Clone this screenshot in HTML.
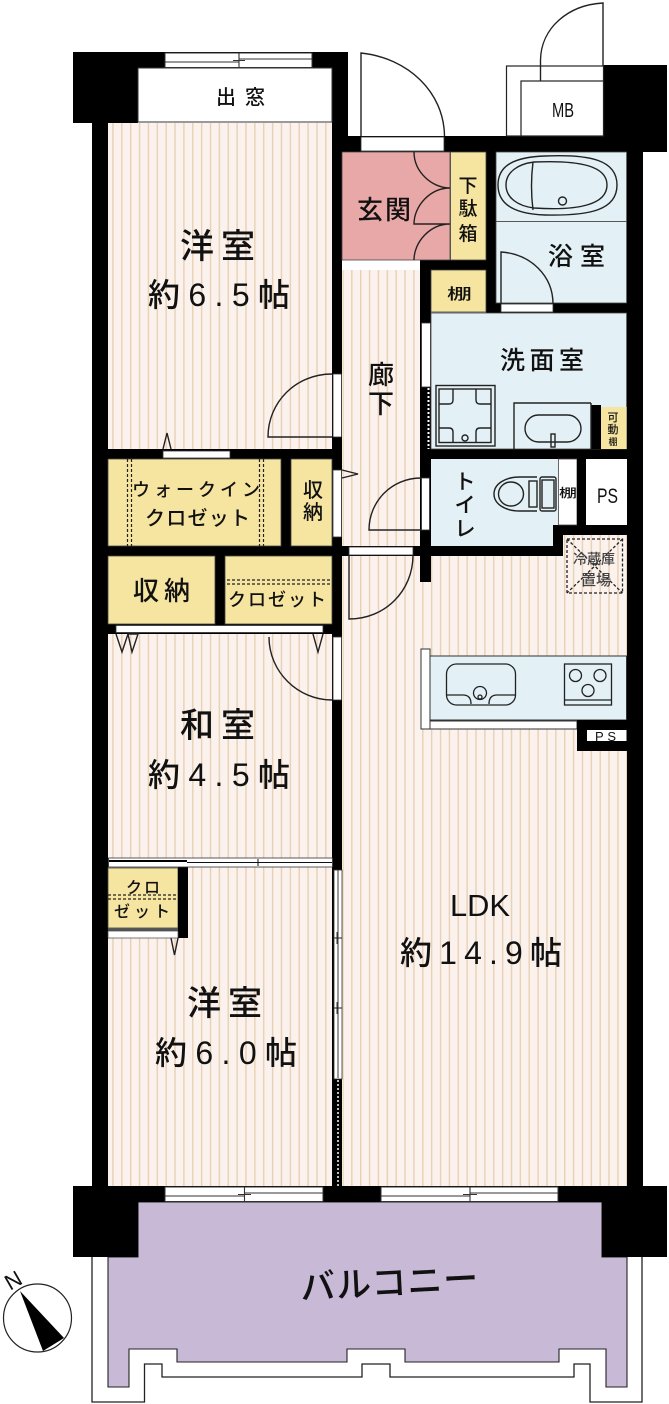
<!DOCTYPE html>
<html lang="ja"><head><meta charset="utf-8"><title>間取り図</title>
<style>html,body{margin:0;padding:0;background:#fff}svg{display:block}
text{font-family:"Liberation Sans","Noto Sans CJK JP",sans-serif;fill:#111;font-weight:500}</style></head><body>
<svg xmlns="http://www.w3.org/2000/svg" width="669" height="1404" viewBox="0 0 669 1404">
<defs>
<pattern id="p1" patternUnits="userSpaceOnUse" width="8.87" height="20" x="5.8"><rect width="8.87" height="20" fill="#fbf1ed"/><rect x="0" width="1.4" height="20" fill="#e8d1b3"/></pattern>
<pattern id="p2" patternUnits="userSpaceOnUse" width="8.87" height="20" x="5.2"><rect width="8.87" height="20" fill="#fbf1ed"/><rect x="0" width="1.4" height="20" fill="#e8d1b3"/></pattern>
</defs>

<!-- balcony -->
<path d="M92 1250V1402H144.5V1364H162V1377H362V1364H390V1377H574V1364H590V1402H642V1250Z" fill="#fff" stroke="#222" stroke-width="1.3"/>
<path d="M138 1202H602V1257H627V1387H606V1349H559V1362H405V1349H347V1362H177V1349H129V1387H108V1257H138Z" fill="#c8bad7" stroke="#222" stroke-width="1.1"/>

<!-- walls -->
<g fill="#000">
<rect x="73" y="52" width="65" height="71"/><rect x="138" y="52" width="210" height="16"/>
<rect x="332" y="52" width="16" height="100"/>
<rect x="92" y="120" width="16" height="1070"/><rect x="332" y="120" width="10" height="1070"/>
<rect x="332" y="136" width="311" height="16"/>
<rect x="603" y="65" width="64" height="87"/>
<rect x="627" y="140" width="16" height="1060"/>
<rect x="73" y="1186" width="65" height="71"/><rect x="602" y="1186" width="65" height="71"/>
<rect x="92" y="1186" width="550" height="16"/>
<rect x="420" y="260" width="76" height="10"/><rect x="420" y="260" width="11" height="322"/>
<rect x="486" y="152" width="10" height="160"/><rect x="486" y="303" width="150" height="10"/>
<rect x="420" y="449" width="210" height="10"/>
<rect x="553" y="525" width="80" height="10"/><rect x="553" y="525" width="10" height="31"/>
<rect x="332" y="546" width="231" height="10"/>
<rect x="92" y="449" width="250" height="10"/><rect x="92" y="546" width="250" height="10"/><rect x="92" y="624" width="250" height="10"/>
<rect x="281" y="455" width="10" height="95"/><rect x="215" y="552" width="10" height="76"/>
<rect x="92" y="857" width="250" height="11"/>
</g>

<!-- floors -->
<rect x="108" y="123" width="224" height="326" fill="url(#p1)"/>
<rect x="108" y="634" width="224" height="224" fill="url(#p1)"/>
<rect x="108" y="867" width="224" height="319" fill="url(#p1)"/>
<rect x="342.500" y="270" width="77.500" height="276" fill="url(#p2)"/>
<path d="M342.500 556H563V535H627V1186H342.500Z" fill="url(#p2)"/>
<rect x="420" y="556" width="11" height="26" fill="#000"/>

<!-- dormer -->
<rect x="138" y="68" width="194" height="54" fill="#fff" stroke="#333" stroke-width="1"/>

<!-- entry rooms -->
<rect x="342" y="152" width="108" height="108" fill="#e9a8a8" stroke="#444" stroke-width=".8"/>
<rect x="450.500" y="152" width="35.500" height="108" fill="#f6e5a0" stroke="#444" stroke-width=".8"/>
<rect x="342" y="261" width="78" height="8" fill="#fff"/>
<rect x="431" y="270" width="55" height="42" fill="#f6e5a0" stroke="#444" stroke-width=".8"/>
<rect x="496" y="152" width="130.500" height="69.500" fill="#e3f0f5" stroke="#444" stroke-width=".8"/>
<rect x="496" y="221.500" width="130.500" height="81.500" fill="#e3f0f5" stroke="#444" stroke-width=".8"/>
<rect x="431" y="313" width="195.500" height="136" fill="#e3f0f5" stroke="#444" stroke-width=".8"/>
<path d="M431 459H558V525H553V546H431Z" fill="#e3f0f5"/>
<rect x="558.500" y="459" width="18.500" height="66" fill="#fff" stroke="#444" stroke-width=".8"/>
<rect x="577" y="459" width="9" height="66" fill="#000"/>
<rect x="586" y="459" width="40.500" height="66" fill="#fff"/>
<rect x="591" y="405" width="10" height="44" fill="#000"/>
<rect x="601" y="407" width="25.500" height="42" fill="#f6e5a0"/>

<!-- closets -->
<g fill="#f6e5a0" stroke="#444" stroke-width=".8">
<rect x="108" y="459" width="173" height="87"/><rect x="291" y="459" width="41" height="87"/>
<rect x="108" y="556" width="107" height="68"/><rect x="225" y="556" width="107" height="68"/>
<rect x="108" y="868" width="70" height="60"/>
</g>
<rect x="178" y="866" width="10" height="72" fill="#000"/>
<rect x="108" y="928" width="70" height="3" fill="#555"/>
<rect x="108" y="931" width="70" height="7" fill="#fff" stroke="#444" stroke-width=".7"/>
<g stroke="#222" stroke-width="1.2" stroke-dasharray="3 2" fill="none">
<path d="M127.500 459V546M131.500 459V546M259.500 459V546M263.500 459V546"/>
<path d="M227 580H332M227 584H332"/>
<path d="M108 895H178M108 899H178"/>
</g>

<!-- openings -->
<g fill="#fff" stroke="#333" stroke-width=".8">
<rect x="361" y="137" width="83" height="14"/>
<rect x="163" y="451" width="67" height="7"/>
<rect x="116" y="625.500" width="207" height="7"/>
<rect x="333" y="374" width="8.500" height="63"/>
<rect x="333" y="470" width="8.500" height="67"/>
<rect x="333" y="637" width="8.500" height="63"/>
<rect x="349" y="547" width="64" height="8"/>
<rect x="421.500" y="323" width="9" height="64"/>
<rect x="421.500" y="478" width="8" height="52"/>
<rect x="501" y="304" width="52" height="8"/>
<rect x="108.500" y="858" width="224" height="9"/>
<rect x="334" y="870" width="8" height="209"/>
</g>
<rect x="109" y="860" width="78" height="2" fill="#000"/>
<path d="M110 863H187" stroke="#fff" stroke-width="1" stroke-dasharray="3 2"/>
<path d="M187 862.500H332M258 859V866" stroke="#111" stroke-width="1" fill="none"/>
<path d="M338 870V1078M334 938H342M334 1008H342M337 932V944M337 1002V1014" stroke="#222" stroke-width=".9" fill="none"/>
<path d="M338 1080V1186" stroke="#bbb" stroke-width="2" stroke-dasharray="2 2"/>
<path d="M428.500 388V449" stroke="#fff" stroke-width="2" stroke-dasharray="2 2"/>

<!-- windows -->
<g fill="#fff" stroke="#333" stroke-width="1">
<rect x="165" y="53" width="147" height="14.500"/>
<rect x="165" y="1187" width="158" height="14.500"/>
<rect x="381" y="1187" width="177" height="14.500"/>
</g>
<g stroke="#333" stroke-width="1.1" fill="none">
<path d="M165 62H239M239 59H312M239 53V67M233 60.500H245"/>
<path d="M165 1196H244.500M244.500 1193H323M244.500 1187V1201M238 1194.500H251"/>
<path d="M381 1196H470M470 1193H558M470 1187V1201M463 1194.500H477"/>
</g>

<!-- MB -->
<rect x="506.500" y="66" width="97" height="70" fill="#fff" stroke="#222" stroke-width="1.2"/>
<rect x="521" y="81" width="82.500" height="55" fill="#fff" stroke="#222" stroke-width="1.2"/>
<g fill="none" stroke="#222" stroke-width="1.4">
<path d="M603 66V3C568 5 541 28 540.500 60V81"/>
<path d="M361 136V53C408 58 444 92 444.500 136"/>
<!-- genkan -->
<path d="M414 152C414 172 432 188 450 188M450 188C430 188 414 206 414 224H450M450 224C430 224 414 242 414 260"/>
<!-- interior doors -->
<path d="M332 374C296 374 268 402 268 437H332"/>
<path d="M421 478C392 478 369 501 369 530H421"/>
<path d="M349 555V619C385 619 413 591 413 555"/>
<path d="M269 637C269 672 298 700 332 700"/>
<path d="M501 304V252C531 254 553 276 553 304"/>
<!-- triangles -->
<path d="M163 449L167 433L171 449"/>
<path d="M342 470L358 474L342 478"/>
<path d="M116 634L122 652L128 634L138 634L132 652L128 634"/>
<path d="M313 634L318 652L323 634"/>
<path d="M171 938L174.500 955L178 938"/>
<!-- bath -->
<path d="M545 156C590 154 617 160 617 185C617 210 590 216 545 215C515 214 498 205 498 185C498 165 515 157 545 156Z"/>
<path d="M534 162C580 160 607 166 607 185C607 204 580 211 534 208C518 206 506 198 506 185C506 172 518 164 534 162Z"/>
<path d="M533 162C531 178 531 194 533 210"/>
<circle cx="562.500" cy="201" r="4"/>
<!-- washer -->
<rect x="436" y="385.500" width="59" height="60.500"/>
<rect x="439" y="389" width="52" height="53.500"/>
<path d="M439.500 404H449Q453 404 453 400V389M491 404H480Q476 404 476 400V389M439.500 428H449Q453 428 453 432V442M491 428H480Q476 428 476 432V442"/>
<circle cx="465" cy="438" r="3"/>
<!-- vanity -->
<path d="M514 449V403H591"/>
<path d="M591 403V449"/>
<rect x="525" y="415" width="56" height="27" rx="13.500"/>
<rect x="551" y="434" width="4" height="13"/>
<!-- toilet -->
<path d="M537 477H520C505 477 494 484 494 494C494 504 505 511 520 511H537"/>
<ellipse cx="511" cy="494" rx="12.500" ry="12"/>
<rect x="529" y="481" width="8" height="26"/>
<rect x="540" y="477" width="16" height="34" rx="2"/>
<rect x="542" y="480" width="12" height="28"/>
</g>

<!-- kitchen -->
<rect x="430" y="656" width="196.500" height="64" fill="#e3f0f5" stroke="#333" stroke-width="1"/>
<rect x="421" y="649" width="9" height="80" fill="#fff" stroke="#333" stroke-width="1"/>
<rect x="430" y="721" width="147" height="8" fill="#fff" stroke="#333" stroke-width="1"/>
<rect x="577" y="720" width="50" height="31" fill="#000"/>
<rect x="587" y="730" width="39.500" height="11" fill="#fff"/>
<g fill="none" stroke="#222" stroke-width="1.3">
<rect x="446.500" y="664" width="69" height="41" rx="10"/>
<path d="M447 695H463Q471 695 471 704M515 695H497Q489 695 489 704"/>
<circle cx="480" cy="693" r="6.500"/>
<circle cx="480" cy="697" r="2"/>
<rect x="564.500" y="664" width="47" height="41"/>
<path d="M565 700H612"/>
<circle cx="575.500" cy="675.500" r="6"/><circle cx="600" cy="675.500" r="6"/><circle cx="588" cy="690.500" r="6"/>
</g>

<!-- fridge -->
<g fill="none" stroke="#222" stroke-width="1.3" stroke-dasharray="3 2">
<rect x="567" y="539" width="55.500" height="54"/>
<path d="M567 539L622.500 593M622.500 539L567 593"/>
</g>

<!-- compass -->
<circle cx="37.500" cy="1318" r="34" fill="#fff" stroke="#222" stroke-width="1.2"/>
<path d="M20 1291L64 1338L43 1351Z" fill="#000"/>
<text x="13" y="1288" font-size="22" text-anchor="middle" transform="rotate(-30 13 1280)">N</text>

<!-- labels -->
<text x="216" y="104" font-size="20" textLength="49">出窓</text>
<text x="180" y="258" font-size="34" textLength="75">洋室</text>
<text x="148" y="306" font-size="32" textLength="142">約6.5帖</text>
<text x="357" y="219" font-size="26" textLength="54">玄関</text>
<g font-size="19" text-anchor="middle">
<text x="468" y="192">下</text><text x="468" y="215">駄</text><text x="468" y="240">箱</text>
</g>
<text x="548" y="265" font-size="25" textLength="57">浴室</text>
<text x="447" y="299" font-size="15" textLength="25" lengthAdjust="spacingAndGlyphs">棚</text>
<text x="500" y="369" font-size="25" textLength="84">洗面室</text>
<g font-size="26" text-anchor="middle">
<text x="381" y="384">廊</text><text x="381" y="413">下</text>
</g>
<g font-size="21" text-anchor="middle">
<text x="465" y="489">ト</text><text x="465" y="512">イ</text><text x="465" y="536">レ</text>
</g>
<text x="559" y="497" font-size="12" textLength="18" lengthAdjust="spacingAndGlyphs">棚</text>
<text x="597" y="503" font-size="21" textLength="21" lengthAdjust="spacingAndGlyphs">PS</text>
<g font-size="11" text-anchor="middle">
<text x="613" y="421">可</text><text x="613" y="433">動</text><text x="613" y="445" font-size="9">棚</text>
</g>
<text x="132" y="496" font-size="18" textLength="128">ウォークイン</text>
<text x="145" y="525" font-size="20" textLength="105">クロゼット</text>
<g font-size="20" text-anchor="middle">
<text x="313" y="497">収</text><text x="313" y="519">納</text>
</g>
<text x="133" y="600" font-size="26" textLength="57">収納</text>
<text x="228" y="606" font-size="18" textLength="98">クロゼット</text>
<text x="180" y="737" font-size="34" textLength="75">和室</text>
<text x="148" y="786" font-size="32" textLength="142">約4.5帖</text>
<text x="126" y="893" font-size="16" textLength="34">クロ</text>
<text x="114" y="917" font-size="16" textLength="56">ゼット</text>
<text x="187" y="1015" font-size="34" textLength="75">洋室</text>
<text x="155" y="1064" font-size="32" textLength="142">約6.0帖</text>
<text x="450" y="916" font-size="31" textLength="60" lengthAdjust="spacingAndGlyphs">LDK</text>
<text x="400" y="964" font-size="32" textLength="162">約14.9帖</text>
<text x="300" y="1295" font-size="35" textLength="178" transform="rotate(-3 390 1280)">バルコニー</text>
<text x="552" y="117" font-size="20" textLength="22" lengthAdjust="spacingAndGlyphs">MB</text>
<text x="595" y="741" font-size="13" textLength="21">PS</text>
<g style="fill:#444">
<text x="573" y="564" font-size="14" textLength="42" style="fill:#444">冷蔵庫</text>
<text x="581" y="585" font-size="15" textLength="30" style="fill:#444">置場</text>
</g>
</svg>
</body></html>
